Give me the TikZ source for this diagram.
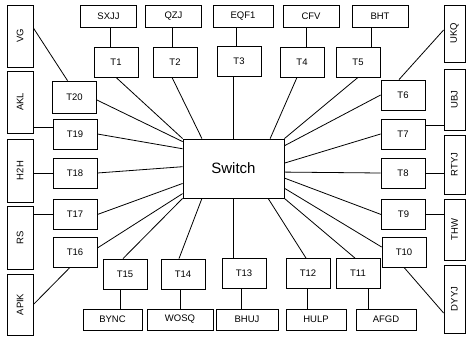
\documentclass[tikz,border=0pt]{standalone}
\usepackage{fontspec}
\setmainfont{Liberation Sans}
\usepackage{graphicx}
\usetikzlibrary{calc}

\begin{document}
\begin{tikzpicture}[
  x=1pt, y=-1pt,
  font=\fontsize{9.5}{11}\selectfont,
  box/.style={draw, line width=0.8pt, inner sep=0pt, align=center},
  tbox/.style={box, minimum width=44, minimum height=30},
  lbl/.style={box, minimum width=56, minimum height=22},
  side/.style={box, minimum width=26, minimum height=62},
  wire/.style={line width=0.8pt},
]
\useasboundingbox (0,0) rectangle (466,337);

\node[box, minimum width=101, minimum height=59, font=\fontsize{15}{18}\selectfont] (sw) at (233.5,168.5) {Switch};

\node[lbl] (sxjj) at (108.5,16) {SXJJ};
\node[lbl] (qzj) at (173.5,16) {QZJ};
\node[lbl, minimum width=60] (eqf1) at (243,16) {EQF1};
\node[lbl] (cfv) at (311,16) {CFV};
\node[lbl] (bht) at (380,16) {BHT};

\node[tbox] (t1) at (116,62) {T1};
\node[tbox] (t2) at (175,62) {T2};
\node[tbox] (t3) at (239,61) {T3};
\node[tbox] (t4) at (302,62) {T4};
\node[tbox] (t5) at (358,62) {T5};

\node[tbox] (t6) at (403,95) {T6};
\node[tbox] (t7) at (403,134) {T7};
\node[tbox] (t8) at (403,173) {T8};
\node[tbox] (t9) at (403.5,214.5) {T9};
\node[tbox] (t10) at (404,252) {T10};

\node[tbox] (t11) at (358,273.5) {T11};
\node[tbox] (t12) at (308,273.5) {T12};
\node[tbox] (t13) at (244,273.5) {T13};
\node[tbox] (t14) at (183,274) {T14};
\node[tbox] (t15) at (125,274) {T15};

\node[tbox] (t16) at (75,252) {T16};
\node[tbox] (t17) at (75,214.5) {T17};
\node[tbox] (t18) at (75,173) {T18};
\node[tbox] (t19) at (75,134) {T19};
\node[tbox, minimum height=32] (t20) at (74.5,97) {T20};

\node[lbl, minimum width=59, minimum height=21] (bync) at (112.5,319.5) {BYNC};
\node[lbl, minimum width=66, minimum height=21] (wosq) at (180,319.5) {WOSQ};
\node[lbl, minimum width=62, minimum height=21] (bhuj) at (247,319.5) {BHUJ};
\node[lbl, minimum width=60, minimum height=21] (hulp) at (316,319.5) {HULP};
\node[lbl, minimum width=60, minimum height=21] (afgd) at (386,319.5) {AFGD};

\node[side] (vg) at (20,36) {\rotatebox{90}{VG}};
\node[side] (akl) at (20,102) {\rotatebox{90}{AKL}};
\node[side, minimum height=63] (h2h) at (20,170.5) {\rotatebox{90}{H2H}};
\node[side, minimum height=63] (rs) at (20,237.5) {\rotatebox{90}{RS}};
\node[side, minimum height=61] (apik) at (20,304.5) {\rotatebox{90}{APIK}};

\node[side, minimum width=21, minimum height=57] (ukq) at (454.5,33.5) {\rotatebox{90}{UKQ}};
\node[side, minimum width=21, minimum height=61] (ubj) at (454.5,99.5) {\rotatebox{90}{UBJ}};
\node[side, minimum width=21, minimum height=59] (rtyj) at (454.5,164.5) {\rotatebox{90}{RTYJ}};
\node[side, minimum width=21, minimum height=61] (thw) at (454.5,229.5) {\rotatebox{90}{THW}};
\node[side, minimum width=21, minimum height=68] (dyyj) at (454.5,299) {\rotatebox{90}{DYYJ}};

\draw[wire] ([xshift=-6]t1.north) -- ([xshift=-6]t1.north |- sxjj.south);
\draw[wire] ([xshift=-3]t2.north) -- ([xshift=-3]t2.north |- qzj.south);
\draw[wire] ([xshift=-3]t3.north) -- ([xshift=-3]t3.north |- eqf1.south);
\draw[wire] ([xshift=4]t4.north) -- ([xshift=4]t4.north |- cfv.south);
\draw[wire] ([xshift=13]t5.north) -- ([xshift=13]t5.north |- bht.south);

\draw[wire] ([xshift=-5]t15.south) -- ([xshift=-5]t15.south |- bync.north);
\draw[wire] ([xshift=-3]t14.south) -- ([xshift=-3]t14.south |- wosq.north);
\draw[wire] ([xshift=-3]t13.south) -- ([xshift=-3]t13.south |- bhuj.north);
\draw[wire] ([xshift=-1]t12.south) -- ([xshift=-1]t12.south |- hulp.north);
\draw[wire] ([xshift=10]t11.south) -- ([xshift=10]t11.south |- afgd.north);

\draw[wire] ([yshift=8]vg.east) -- ([xshift=-7]t20.north);
\draw[wire] ([yshift=7]t19.west) -- ([yshift=7]t19.west -| akl.east);
\draw[wire] (t18.west) -- (t18.west -| h2h.east);
\draw[wire] (t17.west) -- (t17.west -| rs.east);
\draw[wire] (apik.east) -- ([xshift=-5]t16.south);

\draw[wire] ([yshift=3.5]ukq.west) -- ([xshift=-4]t6.north);
\draw[wire] ([yshift=9]t7.east) -- ([yshift=9]t7.east -| ubj.west);
\draw[wire] (t8.east) -- (t8.east -| rtyj.west);
\draw[wire] (t9.east) -- (t9.east -| thw.west);
\draw[wire] (t10.south) -- ([yshift=-14]dyyj.west);

\draw[wire] (t1.south) -- (sw.north west);
\draw[wire] ([xshift=-3]t2.south) -- ($(sw.north west)!0.19!(sw.north east)$);
\draw[wire] ([xshift=-6]t3.south) -- ([xshift=-6]t3.south |- sw.north);
\draw[wire] ([xshift=-5]t4.south) -- ($(sw.north west)!0.86!(sw.north east)$);
\draw[wire] (t5.south) -- (sw.north east);
\draw[wire] (t6.west) -- ($(sw.north east)!0.12!(sw.south east)$);
\draw[wire] (t7.west) -- ($(sw.north east)!0.41!(sw.south east)$);
\draw[wire] (t8.west) -- ($(sw.north east)!0.56!(sw.south east)$);
\draw[wire] (t9.west) -- ($(sw.north east)!0.66!(sw.south east)$);
\draw[wire] ([yshift=5]t10.west) -- ($(sw.north east)!0.83!(sw.south east)$);
\draw[wire] ([xshift=-3]t11.north) -- (sw.south east);
\draw[wire] ([xshift=-2]t12.north) -- ($(sw.south west)!0.84!(sw.south east)$);
\draw[wire] ([xshift=-11]t13.north) -- ([xshift=-11]t13.north |- sw.south);
\draw[wire] ([xshift=-4]t14.north) -- ($(sw.south west)!0.19!(sw.south east)$);
\draw[wire] ([xshift=-2]t15.north) -- (sw.south west);
\draw[wire] ([yshift=4]t16.east) -- ($(sw.north west)!0.92!(sw.south west)$);
\draw[wire] (t17.east) -- ($(sw.north west)!0.75!(sw.south west)$);
\draw[wire] (t18.east) -- ($(sw.north west)!0.47!(sw.south west)$);
\draw[wire] (t19.east) -- ($(sw.north west)!0.17!(sw.south west)$);
\draw[wire] ([yshift=-3]t20.east) -- ($(sw.north west)!0.05!(sw.south west)$);
\end{tikzpicture}
\end{document}
